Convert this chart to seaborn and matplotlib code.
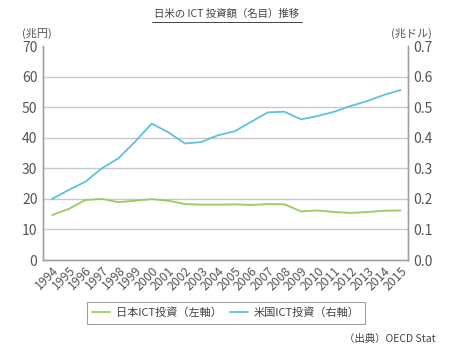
import pandas as pd
import seaborn as sns
from matplotlib import pyplot as plt
from matplotlib.lines import Line2D

# data
years = list(range(1994, 2016))
japan_ict = [14.7, 16.7, 19.6, 20.0, 18.9, 19.4, 19.9, 19.4, 18.3, 18.1, 18.1,
             18.2, 18.0, 18.3, 18.2, 15.9, 16.2, 15.7, 15.4, 15.7, 16.1, 16.2]
us_ict = [0.200, 0.229, 0.256, 0.300, 0.333, 0.387, 0.446, 0.418, 0.381, 0.386, 0.408,
          0.421, 0.452, 0.483, 0.485, 0.460, 0.471, 0.485, 0.504, 0.520, 0.540, 0.556]
left_ticks = [0, 10, 20, 30, 40, 50, 60, 70]
right_ticks = [0.0, 0.1, 0.2, 0.3, 0.4, 0.5, 0.6, 0.7]

df = pd.DataFrame({'year': years, 'japan': japan_ict, 'us': us_ict})

sns.set_style('white')
plt.rcParams['font.family'] = ['Noto Sans CJK JP', 'DejaVu Sans']

green = '#9dca5e'
blue = '#5cc2de'
grey_txt = '#555555'

fig = plt.figure(figsize=(4.54, 3.52), dpi=100)
ax = fig.add_axes([43/454, 1-260/352, 365/454, 214/352])
ax2 = ax.twinx()

sns.lineplot(data=df, x='year', y='japan', ax=ax, color=green, lw=1.3)
sns.lineplot(data=df, x='year', y='us', ax=ax2, color=blue, lw=1.3)

ax.set_xlim(1993.45, 2015.45)
ax.set_ylim(0, 70)
ax2.set_ylim(0, 0.7)
ax.set_yticks(left_ticks)
ax2.set_yticks(right_ticks)
ax2.set_yticklabels([f'{v:.1f}' for v in right_ticks])
ax.set_xticks(years)
ax.set_xticklabels([str(y) for y in years], rotation=45, ha='right',
                   rotation_mode='anchor', fontsize=8.8, color=grey_txt)
ax.tick_params(axis='x', length=0, pad=3)
ax.tick_params(axis='y', length=0, pad=4, labelsize=10, labelcolor=grey_txt)
ax2.tick_params(axis='y', length=0, pad=4, labelsize=10, labelcolor=grey_txt)
ax.set(xlabel='', ylabel='')
ax2.set(xlabel='', ylabel='')

for g in left_ticks[1:-1]:
    ax.axhline(g, color='#c8c8c8', lw=1, zorder=0)
for a in (ax, ax2):
    a.spines['top'].set_visible(False)
    for s in ('left', 'right', 'bottom'):
        a.spines[s].set_color('#a0a0a0')
        a.spines[s].set_linewidth(1)

fig.text(22/454, 1-33/352, '(兆円)', fontsize=8, color=grey_txt, va='center')
fig.text(432/454, 1-33/352, '(兆ドル)', fontsize=8, color=grey_txt, va='center', ha='right')

# title with underline
fig.text(0.5, 1-14/352, '日米の ICT 投資額（名目）推移', fontsize=7.5, color='#444444',
         ha='center', va='center')
fig.add_artist(Line2D([152/454, 302/454], [1-22/352, 1-22/352], color='#444444', lw=0.7))

handles = [Line2D([], [], color=green, lw=1.3), Line2D([], [], color=blue, lw=1.3)]
leg = fig.legend(handles, ['日本ICT投資（左軸）', '米国ICT投資（右軸）'],
                 loc='center', bbox_to_anchor=(226/454, 1-313/352), ncol=2,
                 frameon=True, fancybox=False, fontsize=8, handlelength=1.6,
                 columnspacing=0.8, borderpad=0.5, handletextpad=0.5)
leg.get_frame().set_edgecolor('#888888')
leg.get_frame().set_linewidth(0.8)
for t in leg.get_texts():
    t.set_color('#444444')

fig.text(436/454, 1-339/352, '（出典）OECD Stat', fontsize=7.5, color='#444444',
         ha='right', va='center')

fig.savefig('out.png', dpi=100)
